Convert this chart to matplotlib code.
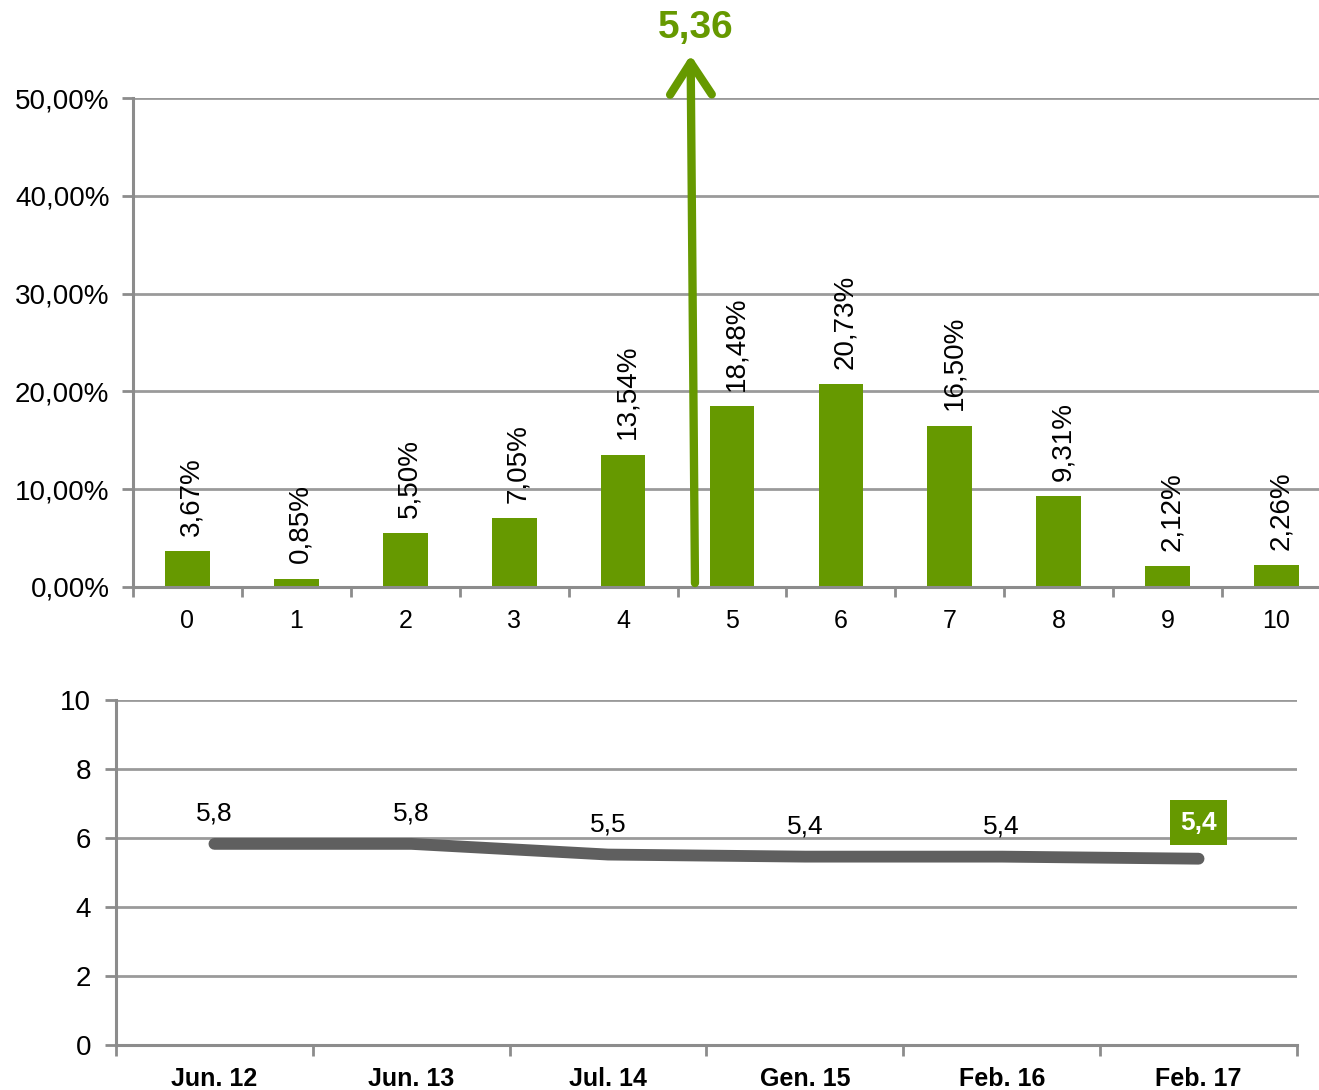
import matplotlib
matplotlib.use("Agg")
import matplotlib.pyplot as plt
from matplotlib.patches import FancyArrowPatch
import numpy as np

plt.rcParams['font.family'] = ['Liberation Sans', 'DejaVu Sans']

# ---- data ----
scores = ["0", "1", "2", "3", "4", "5", "6", "7", "8", "9", "10"]
shares = [3.67, 0.85, 5.50, 7.05, 13.54, 18.48, 20.73, 16.50, 9.31, 2.12, 2.26]
share_labels = ["3,67%", "0,85%", "5,50%", "7,05%", "13,54%", "18,48%",
                "20,73%", "16,50%", "9,31%", "2,12%", "2,26%"]
mean_label = "5,36"
mean_pos = 4.64  # position of the arrow along the category axis (as drawn)

periods = ["Jun. 12", "Jun. 13", "Jul. 14", "Gen. 15", "Feb. 16", "Feb. 17"]
mean_values = [5.83, 5.83, 5.52, 5.46, 5.46, 5.40]
mean_labels = ["5,8", "5,8", "5,5", "5,4", "5,4", "5,4"]

GREEN = "#669900"
GRID = "#9a9a9a"
SPINE = "#8c8c8c"
LINE = "#5f5f5f"

W, H = 1319, 1090
fig = plt.figure(figsize=(W / 100, H / 100), dpi=100)

# ---- top bar chart ----
ax1 = fig.add_axes([133 / W, 1 - 587 / H, (1331 - 133) / W, (587 - 98) / H])
x = np.arange(len(scores))
ax1.bar(x, shares, width=0.41, color=GREEN, zorder=3)
ax1.set_xlim(-0.5, len(scores) - 0.5)
ax1.set_ylim(0, 50)
ax1.set_yticks(np.arange(0, 51, 10))
ax1.set_yticklabels([f"{v:.2f}%".replace(".", ",") for v in np.arange(0, 51, 10)])
ax1.set_xticks(x)
ax1.set_xticklabels(scores)
ax1.set_xticks(np.arange(-0.5, len(scores) - 0.4, 1), minor=True)
ax1.tick_params(axis='x', which='major', length=0, pad=16, labelsize=18)
ax1.tick_params(axis='x', which='minor', length=7, width=2, color=SPINE, direction='out')
ax1.tick_params(axis='y', length=8, width=2, color=SPINE, pad=9, labelsize=20)
ax1.grid(axis='y', color=GRID, linewidth=2, zorder=0)
for s in ['top', 'right']:
    ax1.spines[s].set_visible(False)
for s in ['left', 'bottom']:
    ax1.spines[s].set_color(SPINE)
    ax1.spines[s].set_linewidth(2.2)
ax1.spines['bottom'].set_zorder(4)

for xi, v, lab in zip(x, shares, share_labels):
    ax1.annotate(lab, (xi, v), xytext=(3, 11), textcoords='offset points',
                 rotation=90, ha='center', va='bottom', fontsize=20, color='black')

# mean arrow
arrow = FancyArrowPatch((mean_pos + 0.02, 0.4), (mean_pos - 0.02, 54.4),
                        arrowstyle='->,head_length=1.15,head_width=0.75',
                        mutation_scale=20, color=GREEN, linewidth=6,
                        capstyle='round', joinstyle='round',
                        shrinkA=0, shrinkB=0,
                        clip_on=False, zorder=5)
ax1.add_patch(arrow)
ax1.text(mean_pos + 0.03, 57.2, mean_label, ha='center', va='center', fontsize=28,
         fontweight='bold', color=GREEN, clip_on=False)

# ---- bottom line chart ----
ax2 = fig.add_axes([116 / W, 1 - 1045 / H, (1297 - 116) / W, (1045 - 700) / H])
xp = np.arange(len(periods))
ax2.plot(xp, mean_values, color=LINE, linewidth=8.5, solid_capstyle='round',
         solid_joinstyle='round', zorder=3)
ax2.set_xlim(-0.5, len(periods) - 0.5)
ax2.set_ylim(0, 10)
ax2.set_yticks(np.arange(0, 11, 2))
ax2.set_xticks(xp)
ax2.set_xticklabels(periods)
for t in ax2.get_xticklabels():
    t.set_fontweight('bold')
ax2.set_xticks(np.arange(-0.5, len(periods) - 0.4, 1), minor=True)
ax2.tick_params(axis='x', which='major', length=0, pad=16, labelsize=18)
ax2.tick_params(axis='x', which='minor', length=8, width=2, color=SPINE, direction='out')
ax2.tick_params(axis='y', length=8, width=2, color=SPINE, pad=10, labelsize=20)
ax2.grid(axis='y', color=GRID, linewidth=2, zorder=0)
for s in ['top', 'right']:
    ax2.spines[s].set_visible(False)
for s in ['left', 'bottom']:
    ax2.spines[s].set_color(SPINE)
    ax2.spines[s].set_linewidth(2.2)

for i, (xi, v, lab) in enumerate(zip(xp, mean_values, mean_labels)):
    if i == len(xp) - 1:
        ax2.annotate(lab, (xi, v), xytext=(0, 26), textcoords='offset points',
                     ha='center', va='center', fontsize=19, fontweight='bold',
                     color='white',
                     bbox=dict(boxstyle='square,pad=0.4', facecolor=GREEN,
                               edgecolor='none'))
    else:
        ax2.annotate(lab, (xi, v), xytext=(0, 13), textcoords='offset points',
                     ha='center', va='bottom', fontsize=19, color='black')

fig.savefig("out.png", dpi=100)
